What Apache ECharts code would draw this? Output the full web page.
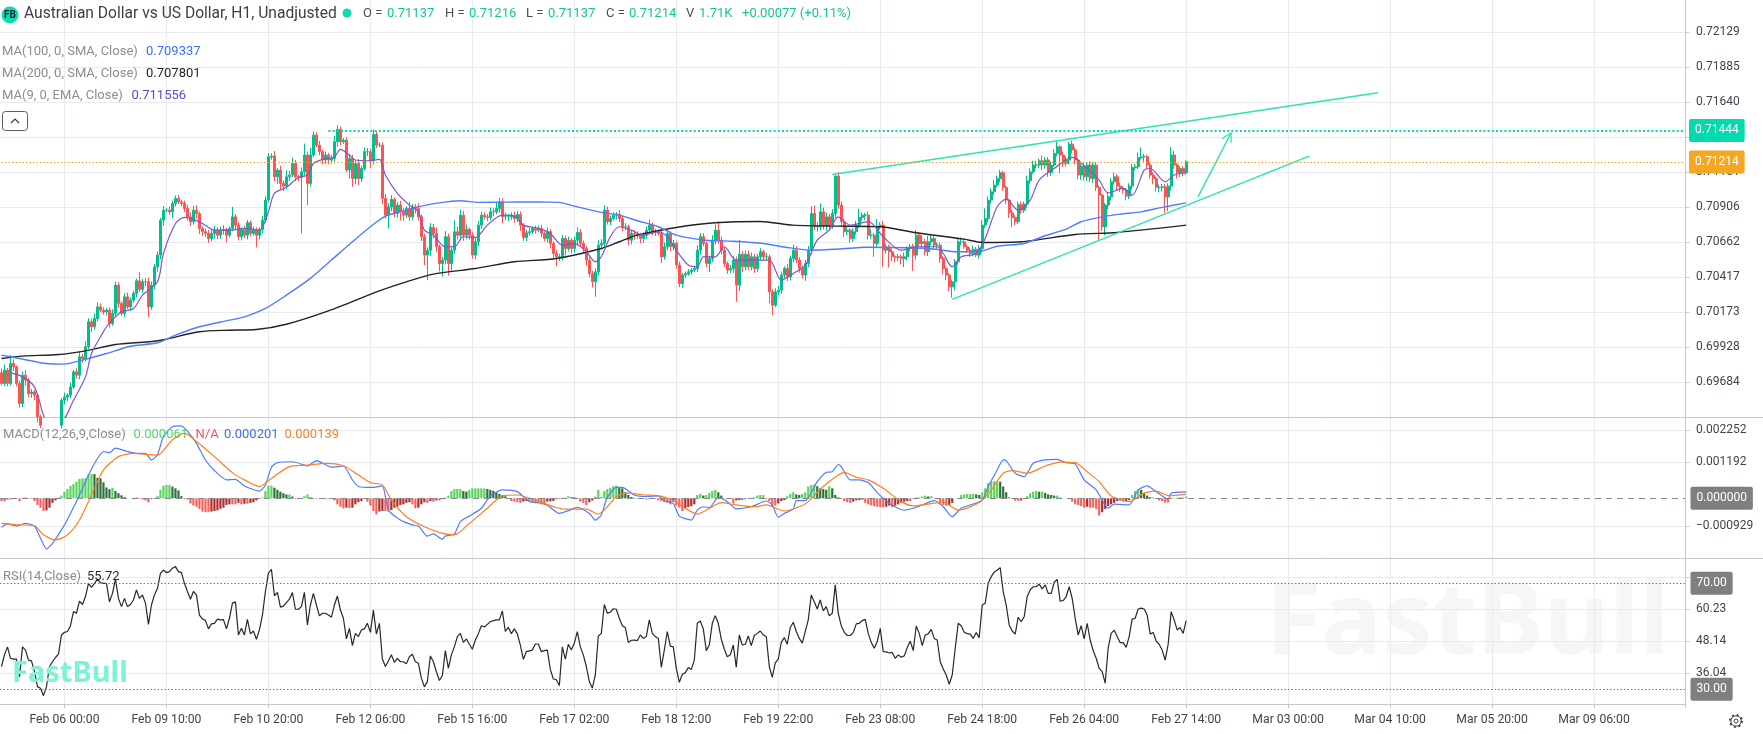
<!DOCTYPE html>
<html><head><meta charset="utf-8">
<style>html,body{margin:0;padding:0;background:#fff}#c{width:1763px;height:734px}</style>
<script src="https://cdn.jsdelivr.net/npm/echarts@6/dist/echarts.min.js"></script>
</head><body><div id="c"></div>
<script>
// prices below are in units of 0.00001
const firstOpen = 69750;
const closes = [
69676,69769,69676,69815,69792,69676,69536,69734,69699,69606,
69617,69594,69443,69384,69349,69326,69361,69419,69396,69384,
69559,69582,69594,69652,69757,69734,69862,69850,69932,70107,
70072,70130,70211,70188,70176,70188,70095,70165,70363,70235,
70165,70281,70211,70258,70305,70393,70333,70386,70386,70211,
70363,70491,70573,70817,70887,70887,70875,70934,70969,70945,
70934,70899,70840,70806,70887,70864,70759,70736,70724,70689,
70724,70747,70712,70747,70752,70712,70759,70840,70782,70701,
70752,70712,70799,70724,70747,70712,70752,70817,70957,71260,
71265,71120,71167,71073,71055,71120,71132,71213,71120,71115,
71155,71272,71073,71272,71411,71341,71295,71237,71272,71237,
71248,71365,71451,71365,71376,71167,71248,71108,71213,71108,
71178,71295,71295,71230,71416,71341,71341,70969,70852,70910,
70962,70864,70922,70875,70852,70899,70840,70910,70899,70840,
70701,70573,70607,70766,70724,70631,70514,70538,70701,70514,
70607,70736,70712,70852,70712,70752,70712,70573,70666,70782,
70852,70840,70836,70875,70875,70899,70945,70840,70840,70840,
70852,70829,70857,70782,70696,70729,70736,70759,70747,70759,
70724,70689,70736,70654,70584,70561,70561,70689,70619,70677,
70619,70677,70731,70654,70619,70538,70444,70386,70456,70642,
70654,70887,70806,70829,70852,70859,70829,70771,70771,70677,
70724,70719,70712,70689,70712,70747,70782,70736,70736,70724,
70561,70631,70724,70631,70654,70503,70374,70433,70444,70456,
70468,70479,70607,70701,70654,70514,70549,70677,70747,70677,
70607,70514,70468,70479,70538,70363,70579,70491,70579,70491,
70561,70479,70561,70596,70561,70561,70316,70223,70316,70328,
70433,70479,70421,70549,70607,70538,70479,70433,70514,70607,
70864,70771,70771,70875,70782,70840,70782,70864,71125,70922,
70806,70736,70747,70689,70736,70782,70836,70852,70852,70712,
70712,70654,70775,70782,70607,70631,70596,70561,70556,70561,
70549,70561,70619,70631,70573,70712,70654,70666,70596,70666,
70689,70642,70642,70549,70479,70433,70351,70386,70526,70666,
70666,70631,70607,70584,70614,70573,70619,70782,70829,70957,
71015,71062,71108,71148,71046,70957,70868,70836,70806,70927,
70887,70929,71092,71155,71202,71202,71232,71202,71237,71150,
71202,71283,71330,71272,71213,71237,71348,71307,71237,71132,
71195,71120,71202,71108,71202,71046,70992,70771,70922,70980,
71085,71120,71055,71039,71027,70985,71055,71185,71190,71255,
71260,71260,71202,71132,71108,71046,71046,71050,70980,71055,
71272,71202,71148,71178,71148,71225];
const upperWicks = [
30,40,15,60,30,10,20,25,35,15,
20,15,10,15,20,10,30,15,20,10,
15,30,15,30,15,25,35,20,40,25,
20,35,30,25,20,15,20,30,25,20,
15,25,30,20,20,15,60,20,25,30,
25,20,25,15,30,15,25,20,20,25,
15,20,25,30,30,35,15,15,20,25,
25,30,20,25,30,15,15,70,20,20,
15,25,20,15,25,20,15,30,25,25,
20,35,15,30,20,45,30,40,25,15,
30,80,25,50,25,20,30,15,25,15,
25,40,30,20,15,20,30,25,20,30,
20,30,25,20,35,25,20,20,30,25,
30,15,20,30,25,15,45,20,20,35,
15,20,20,30,25,40,15,20,40,20,
30,80,35,40,30,35,15,20,25,30,
25,20,20,30,25,40,30,25,30,20,
20,25,25,20,15,20,25,15,20,20,
25,15,30,20,15,25,20,25,20,25,
15,25,35,25,20,15,20,20,25,35,
30,35,25,20,20,15,30,20,25,15,
25,20,20,15,20,25,40,20,20,15,
25,30,25,15,25,15,25,15,15,20,
15,20,35,25,25,15,20,35,40,60,
25,20,15,25,30,25,100,20,25,25,
30,20,20,25,15,25,15,20,25,30,
25,15,30,20,40,30,20,20,25,30,
50,55,30,60,30,30,20,30,5,30,
25,20,25,15,25,30,60,20,15,25,
40,15,50,20,30,20,15,20,15,20,
15,30,15,20,20,35,20,45,20,40,
25,20,20,20,15,15,15,15,20,25,
30,20,15,20,25,15,25,35,70,25,
25,35,20,20,15,15,10,20,15,20,
20,15,35,25,30,30,15,35,20,20,
25,30,40,10,25,25,15,25,20,15,
20,25,20,25,20,20,15,10,15,30,
25,30,20,25,15,15,20,25,20,35,
65,20,15,15,20,15,20,20,20,20,
55,30,15,15,15,10];
const lowerWicks = [
15,20,20,15,30,20,30,25,40,25,
30,35,40,20,20,15,25,30,25,20,
25,30,30,20,15,25,30,30,20,15,
35,20,20,15,20,25,30,15,20,30,
15,25,15,25,20,25,20,25,30,70,
20,30,35,30,40,15,20,45,20,15,
20,25,25,30,20,35,40,30,25,30,
20,35,30,25,30,50,15,20,35,25,
25,20,30,20,15,85,30,25,20,15,
20,30,50,40,35,20,30,15,30,25,
391,25,151,20,15,15,25,30,25,30,
25,20,35,25,15,15,60,58,40,45,
25,15,30,50,25,20,15,40,25,93,
30,25,30,60,40,20,30,25,35,25,
30,70,175,40,35,35,55,90,30,85,
50,25,30,35,40,25,30,25,30,30,
25,20,25,20,30,15,30,45,25,30,
20,30,25,40,25,25,20,15,25,15,
25,20,30,35,30,65,30,25,50,20,
35,30,40,25,30,40,25,40,105,25,
30,25,20,25,15,30,25,30,25,35,
30,40,25,35,30,25,20,25,30,15,
45,20,25,30,25,25,25,30,20,15,
20,15,25,30,20,25,60,25,30,25,
30,25,25,20,30,116,40,35,25,20,
25,30,25,20,25,25,80,70,15,25,
25,20,30,25,25,20,30,25,40,25,
30,25,35,25,30,40,35,25,30,25,
30,35,25,30,25,20,20,25,35,30,
25,93,30,25,115,25,110,30,35,25,
40,60,25,20,110,30,25,35,25,30,
25,30,25,30,40,35,30,75,60,20,
25,15,20,25,20,15,25,30,20,25,
25,20,15,25,25,30,35,70,25,15,
25,20,25,20,15,25,20,35,25,30,
25,15,20,128,25,20,30,25,30,30,
35,25,30,25,30,25,315,30,60,30,
25,20,30,25,25,30,20,25,20,15,
15,35,30,25,40,30,35,30,112,100,
30,25,40,30,25,15];
const ma100 = [[0,69874],[6,69850],[15,69815],[21,69811],[26,69834],[35,69885],[43,69936],[52,69960],[58,70013],[66,70072],[76,70118],[81,70141],[88,70200],[95,70293],[103,70410],[110,70538],[117,70666],[123,70771],[128,70845],[135,70887],[140,70915],[146,70938],[153,70952],[159,70941],[168,70943],[178,70945],[186,70941],[191,70915],[200,70871],[206,70852],[212,70813],[219,70771],[225,70712],[235,70677],[244,70670],[254,70654],[262,70626],[270,70607],[278,70614],[289,70628],[302,70624],[309,70619],[314,70607],[318,70596],[327,70603],[332,70635],[341,70654],[347,70701],[355,70754],[360,70806],[367,70840],[373,70859],[380,70875],[387,70906],[395,70938]];
const ma200 = [[0,69850],[7,69867],[19,69878],[28,69904],[38,69948],[52,69974],[66,70037],[76,70048],[85,70053],[95,70090],[109,70183],[126,70323],[135,70386],[144,70440],[158,70479],[171,70526],[185,70549],[200,70619],[206,70666],[212,70712],[225,70766],[238,70799],[253,70808],[264,70782],[278,70775],[293,70771],[305,70729],[321,70684],[327,70661],[340,70666],[358,70717],[372,70731],[395,70782]];
const ma9 = [[3,69750],[7,69722],[11,69652],[14,69454],[15,69419],[20,69419],[24,69559],[28,69722],[30,69885],[33,70002],[35,70072],[38,70141],[40,70176],[44,70200],[47,70293],[52,70386],[54,70584],[58,70794],[61,70836],[63,70829],[67,70794],[71,70747],[76,70747],[81,70759],[86,70747],[89,70875],[91,71004],[95,71046],[99,71115],[102,71132],[104,71213],[107,71241],[111,71260],[113,71311],[116,71272],[118,71237],[122,71232],[126,71241],[128,71132],[132,71004],[136,70922],[139,70875],[141,70747],[144,70712],[148,70631],[151,70631],[154,70701],[158,70696],[162,70782],[167,70852],[171,70845],[174,70782],[179,70759],[183,70724],[187,70642],[191,70654],[195,70596],[198,70526],[200,70561],[203,70701],[206,70771],[210,70747],[214,70712],[219,70736],[222,70701],[225,70607],[229,70503],[232,70491],[234,70561],[238,70561],[241,70631],[245,70538],[251,70538],[256,70538],[260,70398],[264,70444],[268,70503],[272,70677],[276,70747],[279,70840],[283,70782],[289,70806],[294,70701],[300,70607],[305,70631],[312,70631],[314,70584],[317,70491],[320,70561],[325,70584],[328,70689],[332,70910],[335,70964],[339,70887],[343,70957],[346,71097],[351,71178],[357,71255],[362,71178],[366,71097],[369,71008],[374,71039],[377,70992],[381,71167],[383,71178],[388,71085],[391,71132],[395,71148]];
// MACD in units of 0.00001
const macdHist = [
-9,-9,-4,-4,-1,0,-9,2,3,1,
-2,-9,-22,-31,-42,-40,-31,-15,-7,3,
9,22,31,41,47,55,64,66,66,79,
81,80,68,66,53,36,30,35,24,17,
10,4,0,0,-3,3,-2,-4,-7,-13,
-3,1,7,28,42,44,44,39,33,26,
7,-3,-4,-17,-24,-28,-35,-44,-46,-46,
-44,-42,-40,-35,-31,-22,-20,-20,-20,-15,
-20,-18,-18,-15,-13,-7,-2,3,24,42,
42,35,28,22,17,13,13,6,-2,-2,
2,7,13,3,0,-2,0,0,-3,-3,
0,-7,-20,-28,-33,-31,-33,-31,-20,-13,
-9,-2,-11,-24,-42,-53,-44,-42,-42,-44,
-39,-31,-28,-22,-20,-15,-13,-20,-33,-31,
-20,-13,-15,-9,-11,-7,-7,-3,2,9,
24,31,31,31,24,22,28,33,33,33,
33,33,31,28,25,20,15,11,7,-2,
-9,-11,-13,-15,-11,-9,-9,-13,-13,-15,
-20,-22,-11,-10,-9,-3,-2,0,2,7,
4,3,-2,-11,-15,-22,-13,-7,6,28,
3,24,31,35,40,42,37,33,20,11,
4,2,1,-2,-2,-4,-2,0,-2,-7,
-9,-13,-15,-20,-11,-24,-31,-42,-33,-29,
-26,-20,11,15,9,11,18,24,28,20,
9,-1,-2,-2,-17,-7,-6,-6,-3,0,
1,4,9,11,11,-2,-9,-24,-24,-17,
-9,-6,7,15,20,13,11,15,20,39,
44,46,40,33,31,28,40,33,11,3,
-1,-9,-13,-15,-11,-7,-6,-4,-15,-20,
-24,-26,-28,-29,-30,-28,-24,-29,-24,-20,
-15,-11,-9,-9,-1,3,3,6,9,6,
7,-1,-3,-17,-22,-24,-22,-15,0,-1,
11,13,14,14,14,13,11,20,33,50,
55,57,57,55,39,20,3,-3,-8,-8,
-7,-2,7,17,22,24,22,22,18,13,
11,9,9,2,0,0,-2,-11,-20,-22,
-26,-31,-28,-31,-31,-35,-57,-46,-35,-26,
-20,-15,-9,-7,-11,-9,-6,11,24,29,
28,17,9,4,2,0,-7,-9,-14,-14,
2,2,2,3,2,6];
const macdFast = [[0,-96],[2,-85],[5,-92],[8,-83],[11,-92],[13,-132],[15,-168],[17,-149],[21,-88],[23,-50],[26,11],[29,77],[32,132],[34,155],[36,151],[38,166],[42,155],[45,149],[48,149],[50,127],[52,144],[54,205],[57,237],[60,240],[63,210],[65,182],[68,127],[71,92],[75,61],[78,63],[81,41],[86,24],[88,44],[90,103],[92,118],[97,121],[101,110],[102,107],[105,125],[110,103],[114,107],[117,61],[119,39],[124,36],[127,41],[129,-39],[133,-72],[137,-88],[139,-92],[142,-125],[144,-118],[147,-136],[148,-125],[151,-118],[153,-77],[156,-59],[160,-33],[163,8],[167,28],[172,22],[176,-11],[181,-17],[186,-50],[189,-41],[192,-30],[196,-50],[198,-72],[200,-55],[202,3],[205,36],[207,36],[211,11],[215,6],[219,8],[221,-8],[224,-17],[226,-59],[230,-72],[232,-39],[234,-28],[236,-31],[239,3],[242,-11],[245,-35],[250,-28],[255,-9],[257,-22],[259,-63],[261,-50],[264,-36],[265,-8],[268,-8],[272,55],[275,86],[277,88],[279,112],[280,105],[283,61],[286,61],[289,52],[292,19],[296,-17],[301,-39],[304,-33],[307,-22],[311,-8],[314,-28],[317,-61],[320,-33],[327,-6],[329,39],[332,94],[334,127],[335,125],[338,83],[341,72],[344,116],[348,127],[352,129],[355,118],[358,114],[361,61],[365,28],[369,-33],[371,-19],[376,-22],[379,28],[382,41],[385,22],[389,-3],[390,17],[395,21]];
const macdSlow = [[0,-83],[5,-87],[11,-91],[14,-121],[18,-138],[22,-121],[26,-72],[31,33],[34,94],[39,138],[44,149],[49,145],[52,143],[57,194],[61,216],[65,188],[71,138],[77,85],[81,61],[86,39],[90,66],[96,105],[102,110],[108,116],[114,108],[119,77],[123,52],[127,44],[130,-6],[135,-61],[141,-94],[147,-116],[151,-121],[156,-83],[162,-33],[167,8],[172,11],[178,-6],[184,-28],[188,-36],[195,-36],[199,-52],[203,-17],[205,6],[209,17],[214,11],[219,9],[223,-3],[228,-33],[232,-52],[236,-33],[240,-14],[245,-22],[251,-28],[255,-22],[261,-42],[267,-24],[269,-11],[274,39],[279,77],[281,86],[285,70],[289,61],[294,33],[300,-11],[304,-25],[309,-19],[314,-13],[319,-39],[326,-14],[330,28],[334,83],[337,92],[342,83],[348,107],[353,120],[358,118],[362,88],[366,55],[370,8],[376,-11],[381,17],[385,24],[389,9],[395,14]];
const rsi = [
38.6,43,46,41.7,41.4,41.4,34.8,46,44.8,41,
40.7,36.7,31,30.4,27.6,31,38.6,40.4,42,43.3,
50.5,51.5,51.8,54,59.3,58.7,63.3,62,65,70,
68.5,70,71.6,70.2,70,70,63,66.2,71.6,64.3,
61.2,64.3,61.2,62,63.7,67.5,64.3,65.6,62.5,54.5,
61.8,65.6,68,73.8,75,74,74.4,75.7,76.3,74.4,
74,70,66.9,64,66.9,65.6,58,56.5,56,52.8,
54.7,54.9,56.5,56.2,56.3,52.8,56.8,62.5,63,50.5,
53,50.5,56.4,50.9,52,48.9,52.4,58,66.9,73.8,
75.3,65.3,66.6,61,61.4,62.7,64,66.5,60.2,60.2,
61.2,66.6,54.3,61.8,66.2,61.8,57.7,58.7,58.7,58,
57.2,61.8,65.2,59.9,56.8,49,53,46.5,51.1,49.9,
52.4,52.8,54.9,51.5,59.9,50.8,54.9,41.4,38.6,40.7,
43,40.2,41.7,40.4,40.4,39.6,42.3,43.2,40.4,39.8,
34.2,30.9,32.9,42.6,40.4,36.7,33.3,35.2,44.6,37.9,
43,46,49.9,51.1,47.7,49,47,45.1,48.6,51,
54,53.5,54.5,55.5,55.9,56.2,56.2,59.6,51.8,53.4,
51,52.8,50.9,46.7,41.3,44.2,44.5,44.8,47.1,47.1,
44.2,44.6,44.8,37.5,33.9,33.6,31.4,46,41.4,47,
44.8,47.4,51.8,46,43,38.6,32.9,30.4,35.4,50.1,
51.1,62,58.7,59.1,60.4,60.2,56.8,54,53.3,47.7,
48.5,48.6,48.4,50.5,49.2,49.9,56.2,51.1,49.9,49.2,
38.3,44.8,51.8,46.3,46,37.9,32.6,35.7,36.3,38.2,
37.5,41,54.9,55.8,52.8,44.6,46.7,54.9,57.8,54.9,
48.9,45.2,42.3,43,46.7,38.3,50.5,46.7,47,50.1,
46.5,50.3,51.1,52,50.5,49.9,38.6,34.5,40,41.4,
47.7,49.5,47,53.3,55.3,51.8,49.2,47.4,51.8,56.2,
65.6,63,60.3,63.7,59.6,61.2,57.7,58.7,69.4,58.7,
54,51.5,50.3,50.3,51.4,54.7,54.9,55.9,56.4,51.1,
47.7,45.5,48,53,44.2,44.1,43.7,43.9,41.7,43,
42.1,42.6,45.7,48.2,44.6,53.9,51.1,46.5,50.5,50.9,
52.6,49.2,48.6,40.4,37.7,35.4,31.9,35.4,45.5,54.9,
54,51.5,51,50.8,49.2,51.4,49.5,61.8,62.5,70,
72.5,74.2,75,75.9,66.9,61.8,54.3,52,50.8,57.2,
55.5,57.4,65,67.5,68.7,68.7,69.7,67.9,69.4,66.2,
66.2,70.4,71.5,63.3,63.5,65,68.7,64.3,56.8,50.5,
54,49,54.9,48.6,44.6,41.7,37.9,36.7,32.3,45.5,
51.1,52.3,49.9,47.6,47.6,45.8,49.9,56.5,56.8,60.3,
60.6,60.3,58,50.8,51.5,48.2,47,44.8,41,47,
59.3,56.2,52.4,53.3,51.1,55.9];
const tickIndex = [21,55,89,123,157,191,225,259,293,327,361,395,429,463,497,531];
const tickLabels = ["Feb 06 00:00","Feb 09 10:00","Feb 10 20:00","Feb 12 06:00","Feb 15 16:00","Feb 17 02:00","Feb 18 12:00","Feb 19 22:00","Feb 23 08:00","Feb 24 18:00","Feb 26 04:00","Feb 27 14:00","Mar 03 00:00","Mar 04 10:00","Mar 05 20:00","Mar 09 06:00"];
const priceTicks = [0.69684,0.69928,0.70173,0.70417,0.70662,0.70906,0.71151,0.71395,0.71640,0.71885,0.72129,0.72374];
const priceLabels = [0.69684,0.69928,0.70173,0.70417,0.70662,0.70906,0.71151,0.71640,0.71885,0.72129,0.72374];
const macdTicks = [-0.000929,0.001192,0.002252];
const rsiTicks = [36.04,48.14,60.23,72.31];
const rsiLabels = [36.04,48.14,60.23];
const resistance = 0.71444, lastLevel = 0.71224, lastText = "0.71214";
const upperChannel = [[277,0.71136],[459,0.71707]];
const lowerChannel = [[317,0.70263],[436,0.71265]];
const arrowShaft = [[399,0.70981],[410,0.71428]];
const arrowHead = [[407,0.71388],[410,0.71428],[410,0.71358]];

const FONT = '"Roboto",sans-serif';
const SLOTS = 562;
const scale5 = p => p.map(([k,v]) => [k, v/1e5]);
const opens = closes.map((c,i) => i ? closes[i-1] : firstOpen);
const candles = closes.map((c,i) => {
  const o = opens[i];
  return [o/1e5, c/1e5, (Math.min(o,c)-lowerWicks[i])/1e5, (Math.max(o,c)+upperWicks[i])/1e5];
});
const categories = [];
for (let i=0;i<SLOTS;i++){ const j=tickIndex.indexOf(i); categories.push(j>=0?tickLabels[j]:String(i)); }
const isTick = i => tickIndex.includes(i);
const GRIDC = '#e9eaed', AXISC = '#c6c9cf', TXT='#3f4450';

function xAxis(g, showLabel){
  return {type:'category',gridIndex:g,data:categories,boundaryGap:true,
    axisLine:{show:showLabel,lineStyle:{color:AXISC,width:1}},
    axisTick:{show:showLabel,alignWithLabel:true,interval:isTick,length:4,lineStyle:{color:AXISC}},
    axisLabel:{show:showLabel,interval:isTick,color:TXT,fontFamily:FONT,fontSize:12.2,margin:10,hideOverlap:false},
    splitLine:{show:true,alignWithLabel:true,interval:isTick,lineStyle:{color:GRIDC,width:1}}};
}
function yAxis(g,min,max,ticks,labels,dec){
  return {type:'value',gridIndex:g,position:'right',min,max,scale:true,
    axisLine:{show:true,lineStyle:{color:AXISC}},
    axisTick:{show:true,length:4,lineStyle:{color:AXISC},customValues:ticks},
    axisLabel:{color:TXT,fontFamily:FONT,fontSize:12,margin:10.5,customValues:labels,showMinLabel:true,showMaxLabel:true,
      formatter:v=>Number(v).toFixed(dec).replace('-','\u2212')},
    splitLine:{show:true,lineStyle:{color:GRIDC,width:1}}};
}
function badge(bg,txt){
  return {show:true,position:'end',distance:5,formatter:txt,color:'#fff',backgroundColor:bg,
    fontFamily:FONT,fontSize:12,padding:[6,6,5,6],borderRadius:2};
}
function line(name,data,color,width,g,extra){
  return Object.assign({name,type:'line',xAxisIndex:g,yAxisIndex:g,data,showSymbol:false,symbol:'none',
    lineStyle:{color,width},itemStyle:{color},silent:true,animation:false},extra||{});
}
function txt(x,y,text,fill,size,extra){
  return Object.assign({type:'text',silent:true,style:{x,y,text,fill,font:(size||13)+'px '+FONT,verticalAlign:'middle'}},extra||{});
}
function hline(y,x2){return {type:'line',silent:true,z:1,shape:{x1:0,y1:y,x2:x2||1763,y2:y},style:{stroke:AXISC,lineWidth:1}};}

const GREEN='#12c79a', GRAY='#8b8d92', TEAL='#2be3b6';
const graphics = [
  {type:'text',silent:true,z:-5,style:{x:1266,y:625,text:'FastBull',fill:'#f6f6f6',font:'bold 101px "Noto Sans","Roboto",sans-serif',verticalAlign:'middle',shadowColor:'rgba(0,0,0,0.14)',shadowBlur:9,shadowOffsetY:4}},
  {type:'text',silent:true,z:30,style:{x:12,y:674,text:'FastBull',fill:'#7ef1d6',font:'bold 29px "Noto Sans","Roboto",sans-serif',verticalAlign:'middle'}},
  hline(417.5),hline(558.5),
  {type:'line',silent:true,z:1,shape:{x1:1685.5,y1:704,x2:1685.5,y2:708},style:{stroke:AXISC,lineWidth:1}},
  {type:'circle',silent:true,z:30,shape:{cx:10,cy:15,r:8.5},style:{fill:'#0fdcae'}},
  {type:'text',silent:true,z:31,style:{x:10,y:15.5,text:'FB',fill:'#123',font:'bold 10px "Roboto",sans-serif',align:'center',verticalAlign:'middle'}},
  txt(24,14,'Australian Dollar vs US Dollar, H1, Unadjusted','#3b3f48',15.6),
  {type:'circle',silent:true,z:30,shape:{cx:347,cy:13,r:4.5},style:{fill:'#0fdcae'}},
  txt(363,14,'O =','#4a4e57'),txt(387,14,'0.71137',GREEN),
  txt(445,14,'H =','#4a4e57'),txt(469,14,'0.71216',GREEN),
  txt(526,14,'L =','#4a4e57'),txt(548,14,'0.71137',GREEN),
  txt(606,14,'C =','#4a4e57'),txt(629,14,'0.71214',GREEN),
  txt(686,14,'V','#4a4e57'),txt(699,14,'1.71K',GREEN),
  txt(742,14,'+0.00077 (+0.11%)',GREEN),
  txt(2,52,'MA(100, 0, SMA, Close)',GRAY),txt(146,52,'0.709337','#3d6fff'),
  txt(2,74,'MA(200, 0, SMA, Close)',GRAY),txt(146,74,'0.707801','#26282c'),
  txt(2,96,'MA(9, 0, EMA, Close)',GRAY),txt(131.5,96,'0.711556','#6a45c8'),
  {type:'rect',silent:true,z:30,shape:{x:2.5,y:111.5,width:25,height:19,r:3},style:{fill:'#fff',stroke:'#5a5d66',lineWidth:1}},
  {type:'polyline',silent:true,z:31,shape:{points:[[11,123],[15,119],[19,123]]},style:{stroke:'#3b3f48',lineWidth:1.2,fill:null}},
  txt(3,435,'MACD(12,26,9,Close)',GRAY),txt(133.5,435,'0.000061','#4fd964'),txt(195.5,435,'N/A','#f25555'),
  txt(224,435,'0.000201','#3d6fff'),txt(284.5,435,'0.000139','#ff7f1e'),
  txt(3,577,'RSI(14,Close)',GRAY),txt(87,577,'55.72','#26282c'),
  {type:'circle',silent:true,z:30,shape:{cx:1736,cy:721,r:6},style:{fill:null,stroke:'#3f4450',lineWidth:2,lineDash:[2,2.7]}},
  {type:'circle',silent:true,z:30,shape:{cx:1736,cy:721,r:5.2},style:{fill:null,stroke:'#3f4450',lineWidth:1}},
  {type:'circle',silent:true,z:30,shape:{cx:1736,cy:721,r:2},style:{fill:null,stroke:'#3f4450',lineWidth:1}}
];
graphics.forEach(g=>{ if(g.z===undefined) g.z=30; });

const series = [
  {name:'AUDUSD',type:'candlestick',xAxisIndex:0,yAxisIndex:0,data:candles,barWidth:2.4,silent:true,animation:false,progressive:0,
    itemStyle:{color:'#00bf8c',color0:'#ff5353',borderColor:'#00bf8c',borderColor0:'#ff5353',borderWidth:1},
    markLine:{silent:true,symbol:'none',animation:false,z:20,data:[
      [{coord:[0,lastLevel],lineStyle:{color:'#f5a623',type:[1.5,2],width:1},label:badge('#f5a623',lastText)},{coord:[561,lastLevel]}],
      [{coord:[109,resistance],lineStyle:{color:'#00dcae',type:[2,2.2],width:2},label:badge('#00dcae',resistance.toFixed(5))},{coord:[561,resistance]}]
    ]}},
  line('MA200',scale5(ma200),'#222',1.4,0,{smooth:0.25}),
  line('MA100',scale5(ma100),'#4f7dff',1.4,0,{smooth:0.25}),
  line('MA9',scale5(ma9),'#7e57c9',1.2,0,{smooth:0.3}),
  line('ChannelUpper',upperChannel,TEAL,1.4,0),
  line('ChannelLower',lowerChannel,TEAL,1.4,0),
  line('ArrowShaft',arrowShaft,TEAL,1.4,0),
  line('ArrowHead',arrowHead,TEAL,1.2,0),
  {name:'Histogram',type:'bar',xAxisIndex:1,yAxisIndex:1,data:macdHist.map(v=>v/1e5),barWidth:2.2,silent:true,animation:false,
    itemStyle:{color:p=>{const v=macdHist[p.dataIndex],prev=p.dataIndex?macdHist[p.dataIndex-1]:0;
      return v>=0?(v>=prev?'#5ad45f':'#2e6f3b'):(v<=prev?'#f4635e':'#ad2d2d');}},
    markLine:{silent:true,symbol:'none',animation:false,z:20,data:[
      {yAxis:0,lineStyle:{color:'#85888e',type:[6,5],width:1.2},label:badge('#7f7f7f','0.000000')}]}},
  line('DIF',scale5(macdFast),'#4f7dff',1.2,1,{smooth:0.2}),
  line('DEA',scale5(macdSlow),'#ff7f1e',1.2,1,{smooth:0.25}),
  line('RSI',rsi,'#26282c',1.2,2,{markLine:{silent:true,symbol:'none',animation:false,z:20,data:[
      {yAxis:70,lineStyle:{color:'#777',type:[1.5,2],width:1},label:badge('#7f7f7f','70.00')},
      {yAxis:30,lineStyle:{color:'#777',type:[1.5,2],width:1},label:badge('#7f7f7f','30.00')}]}})
];

const chart = echarts.init(document.getElementById('c'),null,{renderer:'canvas'});
chart.setOption({
  animation:false,backgroundColor:'#fff',
  grid:[
    {left:0,width:1685.5,top:-2.7,height:420,outerBoundsMode:'none'},
    {left:0,width:1685.5,top:417.3,height:141,outerBoundsMode:'none'},
    {left:0,width:1685.5,top:558.3,height:146,outerBoundsMode:'none'}
  ],
  xAxis:[xAxis(0,false),xAxis(1,false),xAxis(2,true)],
  yAxis:[yAxis(0,0.694395,0.72374,priceTicks,priceLabels,5),yAxis(1,-0.001987,0.002683,macdTicks,macdTicks,6),yAxis(2,24.34,79.43,rsiTicks,rsiLabels,2)],
  series,graphic:graphics
});
</script></body></html>
